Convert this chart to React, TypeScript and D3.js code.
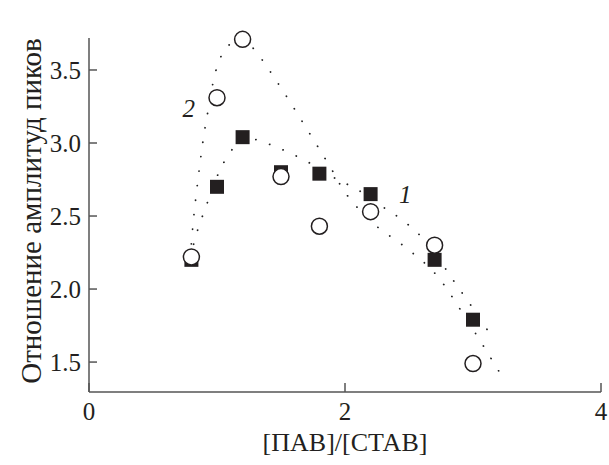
import * as d3 from 'd3';

// measured points, series 1 (filled squares) and series 2 (open circles)
const xVals = [0.8, 1.0, 1.2, 1.5, 1.8, 2.2, 2.7, 3.0];
const series1 = [2.2, 2.7, 3.04, 2.8, 2.79, 2.65, 2.2, 1.79];
const series2 = [2.22, 3.31, 3.71, 2.77, 2.43, 2.53, 2.3, 1.49];

// dotted guide curves
const curve1X = [0.79, 0.84, 0.92, 1.01, 1.07, 1.2, 1.32, 1.44, 1.55, 1.73, 1.94, 2.08, 2.3, 2.42, 2.56, 2.7, 2.83, 2.99, 3.15];
const curve1Y = [2.21, 2.38, 2.58, 2.79, 2.89, 3.03, 3.02, 2.98, 2.94, 2.86, 2.75, 2.69, 2.56, 2.49, 2.39, 2.25, 2.08, 1.88, 1.67];
const curve2X = [0.79, 0.82, 0.86, 0.89, 0.93, 1.0, 1.08, 1.2, 1.3, 1.875, 2.01, 2.22, 2.48, 2.7, 2.93, 3.2];
const curve2Y = [2.21, 2.51, 2.81, 3.01, 3.22, 3.52, 3.66, 3.71, 3.63, 2.85, 2.65, 2.45, 2.28, 2.11, 1.82, 1.44];

const xTicks = [0, 2, 4];
const yTicks = [1.5, 2.0, 2.5, 3.0, 3.5];

const W = 609;
const H = 465;
const FONT = "'Liberation Serif', 'Times New Roman', serif";
const AXIS = '#555';
const INK = '#231f20';

function t(size: number, italic = false) {
  return { fontFamily: FONT, fontSize: `${size}px`, fontStyle: italic ? 'italic' : 'normal', fill: INK };
}

export default function App() {
  const x = d3.scaleLinear().domain([0, 4]).range([89, 601]);
  const y = d3.scaleLinear().domain([1.295, 3.719]).range([392, 38]);

  const line = d3
    .line<[number, number]>()
    .x((d) => x(d[0]))
    .y((d) => y(d[1]))
    .curve(d3.curveCatmullRom.alpha(0.5));

  const c1 = line(curve1X.map((v, i) => [v, curve1Y[i]] as [number, number])) || '';
  const c2 = line(curve2X.map((v, i) => [v, curve2Y[i]] as [number, number])) || '';

  const sq = 14;
  const r = 8;
  const [y0, y1] = y.range();

  return (
    <div style={{ position: 'absolute', left: 0, top: 0 }}>
      <svg width={W} height={H} style={{ display: 'block', background: '#fff' }}>
        {/* dotted curves */}
        <path d={c1} fill="none" stroke="#222" strokeWidth={1.8} strokeDasharray="0.1 14.5" strokeLinecap="round" />
        <path d={c2} fill="none" stroke="#222" strokeWidth={1.8} strokeDasharray="0.1 14.5" strokeLinecap="round" />

        {/* axes */}
        <line x1={x(0)} x2={x(0)} y1={y1} y2={y0} stroke={AXIS} strokeWidth={1.5} />
        <line x1={x(0)} x2={x(4)} y1={y0} y2={y0} stroke={AXIS} strokeWidth={1.5} />
        {yTicks.map((v) => (
          <g key={`y${v}`}>
            <line x1={x(0)} x2={x(0) + 8} y1={y(v)} y2={y(v)} stroke={AXIS} strokeWidth={1.5} />
            <text x={x(0) - 8} y={y(v)} dy="0.36em" textAnchor="end" style={t(25)}>
              {v.toFixed(1)}
            </text>
          </g>
        ))}
        {xTicks.map((v) => (
          <g key={`x${v}`}>
            <line x1={x(v)} x2={x(v)} y1={y0} y2={y0 - 9} stroke={AXIS} strokeWidth={1.5} />
            <text x={x(v)} y={y0 + 28} textAnchor="middle" style={t(25)}>
              {v}
            </text>
          </g>
        ))}

        {/* axis titles */}
        <text x={345} y={451} textAnchor="middle" style={t(26)}>
          [ПАВ]/[СТАВ]
        </text>
        <text transform={`translate(41,211) rotate(-90)`} textAnchor="middle" style={t(29)}>
          Отношение амплитуд пиков
        </text>

        {/* series 1: squares */}
        {xVals.map((v, i) => (
          <rect
            key={`s${i}`}
            x={x(v) - sq / 2}
            y={y(series1[i]) - sq / 2}
            width={sq}
            height={sq}
            fill={INK}
          />
        ))}
        {/* series 2: circles */}
        {xVals.map((v, i) => (
          <circle key={`c${i}`} cx={x(v)} cy={y(series2[i])} r={r} fill="#fff" stroke={INK} strokeWidth={1.5} />
        ))}

        {/* curve labels */}
        <text x={x(0.78)} y={y(3.18)} textAnchor="middle" style={t(25, true)}>
          2
        </text>
        <text x={x(2.47)} y={y(2.59)} textAnchor="middle" style={t(25, true)}>
          1
        </text>
      </svg>
    </div>
  );
}
